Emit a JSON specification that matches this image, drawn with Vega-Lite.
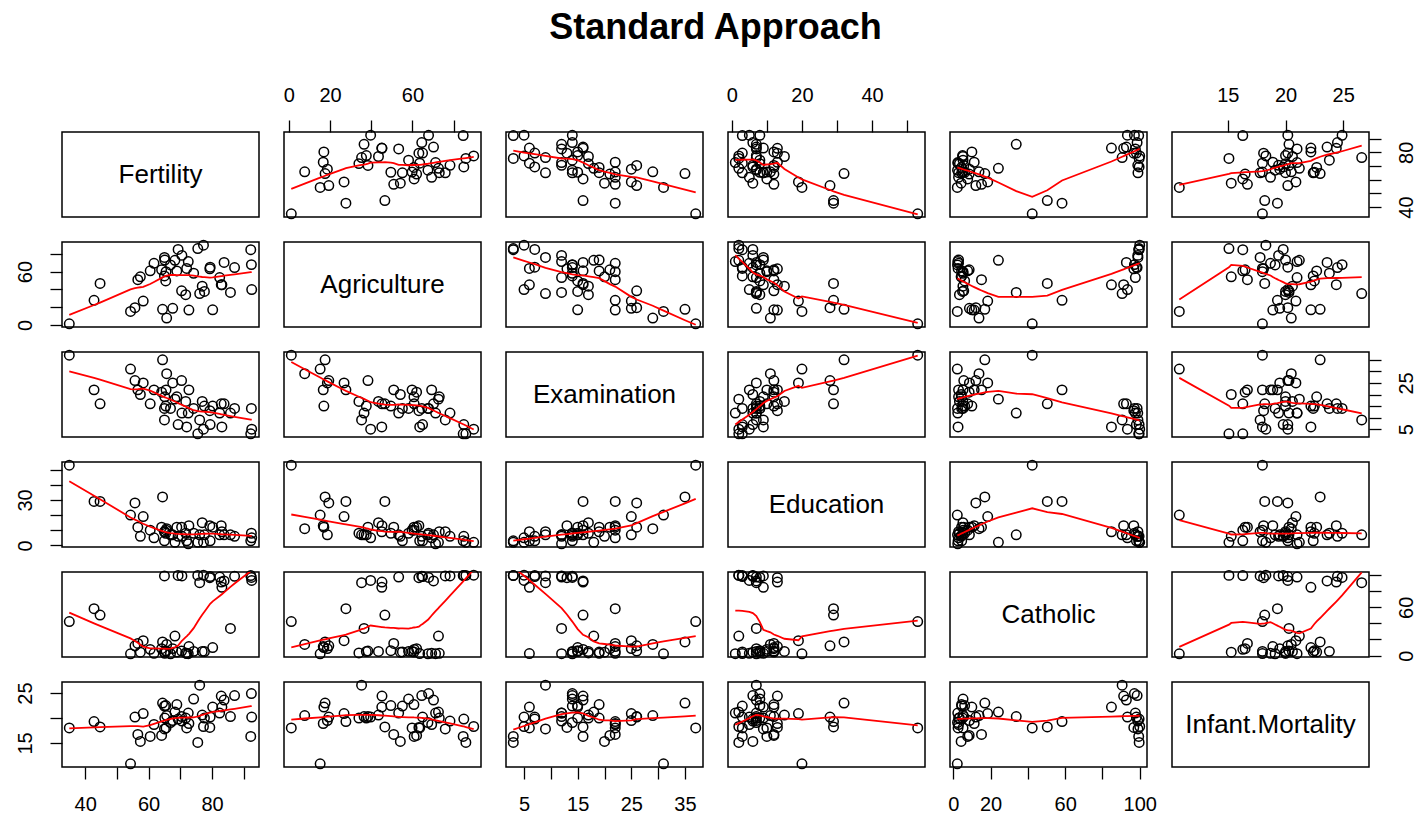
{
  "$schema": "https://vega.github.io/schema/vega-lite/v6.json",
  "background": "white",
  "padding": {"left": 14, "top": 10, "right": 5, "bottom": 5},
  "title": {"text": "Standard Approach", "fontSize": 36, "fontWeight": "bold", "font": "Liberation Sans", "color": "black", "anchor": "middle", "offset": 37},
  "data": {"values": [
    {"Fertility":80.2,"Agriculture":17.0,"Examination":15,"Education":12,"Catholic":9.96,"Infant_Mortality":22.2},
    {"Fertility":83.1,"Agriculture":45.1,"Examination":6,"Education":9,"Catholic":84.84,"Infant_Mortality":22.2},
    {"Fertility":92.5,"Agriculture":39.7,"Examination":5,"Education":5,"Catholic":93.40,"Infant_Mortality":20.2},
    {"Fertility":85.8,"Agriculture":36.5,"Examination":12,"Education":7,"Catholic":33.77,"Infant_Mortality":20.3},
    {"Fertility":76.9,"Agriculture":43.5,"Examination":17,"Education":15,"Catholic":5.16,"Infant_Mortality":20.6},
    {"Fertility":76.1,"Agriculture":35.3,"Examination":9,"Education":7,"Catholic":90.57,"Infant_Mortality":26.6},
    {"Fertility":83.8,"Agriculture":70.2,"Examination":16,"Education":7,"Catholic":92.85,"Infant_Mortality":23.6},
    {"Fertility":92.4,"Agriculture":67.8,"Examination":14,"Education":8,"Catholic":97.16,"Infant_Mortality":24.9},
    {"Fertility":82.4,"Agriculture":53.3,"Examination":12,"Education":7,"Catholic":97.67,"Infant_Mortality":21.0},
    {"Fertility":82.9,"Agriculture":45.2,"Examination":16,"Education":13,"Catholic":91.38,"Infant_Mortality":24.4},
    {"Fertility":87.1,"Agriculture":64.5,"Examination":14,"Education":6,"Catholic":98.61,"Infant_Mortality":24.5},
    {"Fertility":64.1,"Agriculture":62.0,"Examination":21,"Education":12,"Catholic":8.52,"Infant_Mortality":16.5},
    {"Fertility":66.9,"Agriculture":67.5,"Examination":14,"Education":7,"Catholic":2.27,"Infant_Mortality":19.1},
    {"Fertility":68.9,"Agriculture":60.7,"Examination":19,"Education":12,"Catholic":4.43,"Infant_Mortality":22.7},
    {"Fertility":61.7,"Agriculture":69.3,"Examination":22,"Education":5,"Catholic":2.82,"Infant_Mortality":18.7},
    {"Fertility":68.3,"Agriculture":72.6,"Examination":18,"Education":2,"Catholic":24.20,"Infant_Mortality":21.2},
    {"Fertility":71.7,"Agriculture":34.0,"Examination":17,"Education":8,"Catholic":3.30,"Infant_Mortality":20.0},
    {"Fertility":55.7,"Agriculture":19.4,"Examination":26,"Education":28,"Catholic":12.11,"Infant_Mortality":20.2},
    {"Fertility":54.3,"Agriculture":15.2,"Examination":31,"Education":20,"Catholic":2.15,"Infant_Mortality":10.8},
    {"Fertility":65.1,"Agriculture":73.0,"Examination":19,"Education":9,"Catholic":2.84,"Infant_Mortality":20.0},
    {"Fertility":65.5,"Agriculture":59.8,"Examination":22,"Education":10,"Catholic":5.23,"Infant_Mortality":18.0},
    {"Fertility":65.0,"Agriculture":55.1,"Examination":14,"Education":3,"Catholic":4.52,"Infant_Mortality":22.4},
    {"Fertility":56.6,"Agriculture":50.9,"Examination":22,"Education":12,"Catholic":15.14,"Infant_Mortality":16.7},
    {"Fertility":57.4,"Agriculture":54.1,"Examination":20,"Education":6,"Catholic":4.20,"Infant_Mortality":15.3},
    {"Fertility":72.5,"Agriculture":71.2,"Examination":12,"Education":1,"Catholic":2.40,"Infant_Mortality":21.0},
    {"Fertility":74.2,"Agriculture":58.1,"Examination":14,"Education":8,"Catholic":5.23,"Infant_Mortality":23.8},
    {"Fertility":72.0,"Agriculture":63.5,"Examination":6,"Education":3,"Catholic":2.56,"Infant_Mortality":18.0},
    {"Fertility":60.5,"Agriculture":60.8,"Examination":16,"Education":10,"Catholic":7.72,"Infant_Mortality":16.3},
    {"Fertility":58.3,"Agriculture":26.8,"Examination":25,"Education":19,"Catholic":18.46,"Infant_Mortality":20.9},
    {"Fertility":65.4,"Agriculture":49.5,"Examination":15,"Education":8,"Catholic":6.10,"Infant_Mortality":22.5},
    {"Fertility":75.5,"Agriculture":85.9,"Examination":3,"Education":2,"Catholic":99.71,"Infant_Mortality":15.1},
    {"Fertility":69.3,"Agriculture":84.9,"Examination":7,"Education":6,"Catholic":99.68,"Infant_Mortality":19.8},
    {"Fertility":77.3,"Agriculture":89.7,"Examination":5,"Education":2,"Catholic":100.00,"Infant_Mortality":18.3},
    {"Fertility":70.5,"Agriculture":78.2,"Examination":12,"Education":6,"Catholic":98.96,"Infant_Mortality":19.4},
    {"Fertility":79.4,"Agriculture":64.9,"Examination":7,"Education":3,"Catholic":98.22,"Infant_Mortality":20.2},
    {"Fertility":65.0,"Agriculture":75.9,"Examination":9,"Education":9,"Catholic":99.06,"Infant_Mortality":17.8},
    {"Fertility":92.2,"Agriculture":84.6,"Examination":3,"Education":3,"Catholic":99.46,"Infant_Mortality":16.3},
    {"Fertility":79.3,"Agriculture":63.1,"Examination":13,"Education":13,"Catholic":96.83,"Infant_Mortality":18.1},
    {"Fertility":70.4,"Agriculture":38.4,"Examination":26,"Education":12,"Catholic":5.62,"Infant_Mortality":20.3},
    {"Fertility":65.7,"Agriculture":7.7,"Examination":29,"Education":11,"Catholic":13.79,"Infant_Mortality":20.5},
    {"Fertility":72.7,"Agriculture":16.7,"Examination":22,"Education":13,"Catholic":11.22,"Infant_Mortality":18.9},
    {"Fertility":64.4,"Agriculture":17.6,"Examination":35,"Education":32,"Catholic":16.92,"Infant_Mortality":23.0},
    {"Fertility":77.6,"Agriculture":37.6,"Examination":15,"Education":7,"Catholic":4.97,"Infant_Mortality":20.0},
    {"Fertility":67.6,"Agriculture":18.7,"Examination":25,"Education":7,"Catholic":8.65,"Infant_Mortality":19.5},
    {"Fertility":35.0,"Agriculture":1.2,"Examination":37,"Education":53,"Catholic":42.34,"Infant_Mortality":18.0},
    {"Fertility":44.7,"Agriculture":46.6,"Examination":16,"Education":29,"Catholic":50.43,"Infant_Mortality":18.2},
    {"Fertility":42.8,"Agriculture":27.7,"Examination":22,"Education":29,"Catholic":58.33,"Infant_Mortality":19.3}
  ]},
  "columns": 6,
  "spacing": {"row": 25, "column": 25},
  "bounds": "flush",
  "concat": [
    {"width":197,"height":85,"data":{"values":[{"label":"Fertility","px":0.5,"py":0.5}]},"mark":{"type":"text","fontSize":26,"color":"black","font":"Liberation Sans"},"encoding":{"x":{"field":"px","type":"quantitative","scale":{"domain":[0,1]},"axis":null},"y":{"field":"py","type":"quantitative","scale":{"domain":[0,1]},"axis":null},"text":{"field":"label"}}},
    {"width":197,"height":85,"encoding":{"x":{"field":"Agriculture","type":"quantitative","scale":{"domain":[-2.34,93.24],"nice":false,"zero":false},"axis":{"orient":"top","title":null,"values":[0,20,40,60,80],"labelExpr":"indexof([0,20,60],datum.value)>=0?datum.label:''"}},"y":{"field":"Fertility","type":"quantitative","scale":{"domain":[32.7,94.8],"nice":false,"zero":false},"axis":null}},"layer":[{"mark":{"type":"point","shape":"circle","filled":false,"color":"black","size":90,"strokeWidth":1.5,"opacity":1}},{"transform":[{"loess":"Fertility","on":"Agriculture","bandwidth":0.667}],"mark":{"type":"line","color":"red","strokeWidth":1.8,"clip":true}}]},
    {"width":197,"height":85,"encoding":{"x":{"field":"Examination","type":"quantitative","scale":{"domain":[1.64,38.36],"nice":false,"zero":false},"axis":null},"y":{"field":"Fertility","type":"quantitative","scale":{"domain":[32.7,94.8],"nice":false,"zero":false},"axis":null}},"layer":[{"mark":{"type":"point","shape":"circle","filled":false,"color":"black","size":90,"strokeWidth":1.5,"opacity":1}},{"transform":[{"loess":"Fertility","on":"Examination","bandwidth":0.667}],"mark":{"type":"line","color":"red","strokeWidth":1.8,"clip":true}}]},
    {"width":197,"height":85,"encoding":{"x":{"field":"Education","type":"quantitative","scale":{"domain":[-1.08,55.08],"nice":false,"zero":false},"axis":{"orient":"top","title":null,"values":[0,10,20,30,40,50],"labelExpr":"indexof([0,20,40],datum.value)>=0?datum.label:''"}},"y":{"field":"Fertility","type":"quantitative","scale":{"domain":[32.7,94.8],"nice":false,"zero":false},"axis":null}},"layer":[{"mark":{"type":"point","shape":"circle","filled":false,"color":"black","size":90,"strokeWidth":1.5,"opacity":1}},{"transform":[{"loess":"Fertility","on":"Education","bandwidth":0.667}],"mark":{"type":"line","color":"red","strokeWidth":1.8,"clip":true}}]},
    {"width":197,"height":85,"encoding":{"x":{"field":"Catholic","type":"quantitative","scale":{"domain":[-1.764,103.914],"nice":false,"zero":false},"axis":null},"y":{"field":"Fertility","type":"quantitative","scale":{"domain":[32.7,94.8],"nice":false,"zero":false},"axis":null}},"layer":[{"mark":{"type":"point","shape":"circle","filled":false,"color":"black","size":90,"strokeWidth":1.5,"opacity":1}},{"transform":[{"loess":"Fertility","on":"Catholic","bandwidth":0.667}],"mark":{"type":"line","color":"red","strokeWidth":1.8,"clip":true}}]},
    {"width":197,"height":85,"encoding":{"x":{"field":"Infant_Mortality","type":"quantitative","scale":{"domain":[10.168,27.232],"nice":false,"zero":false},"axis":{"orient":"top","title":null,"values":[15,20,25]}},"y":{"field":"Fertility","type":"quantitative","scale":{"domain":[32.7,94.8],"nice":false,"zero":false},"axis":{"orient":"right","title":null,"values":[40,50,60,70,80,90],"labelExpr":"indexof([40,80],datum.value)>=0?datum.label:''","labelAngle":270,"labelAlign":"center","labelBaseline":"top"}}},"layer":[{"mark":{"type":"point","shape":"circle","filled":false,"color":"black","size":90,"strokeWidth":1.5,"opacity":1}},{"transform":[{"loess":"Fertility","on":"Infant_Mortality","bandwidth":0.667}],"mark":{"type":"line","color":"red","strokeWidth":1.8,"clip":true}}]},

    {"width":197,"height":85,"encoding":{"x":{"field":"Fertility","type":"quantitative","scale":{"domain":[32.7,94.8],"nice":false,"zero":false},"axis":null},"y":{"field":"Agriculture","type":"quantitative","scale":{"domain":[-2.34,93.24],"nice":false,"zero":false},"axis":{"orient":"left","title":null,"values":[0,20,40,60,80],"labelExpr":"indexof([0,60],datum.value)>=0?datum.label:''","labelAngle":270,"labelAlign":"center","labelBaseline":"bottom"}}},"layer":[{"mark":{"type":"point","shape":"circle","filled":false,"color":"black","size":90,"strokeWidth":1.5,"opacity":1}},{"transform":[{"loess":"Agriculture","on":"Fertility","bandwidth":0.667}],"mark":{"type":"line","color":"red","strokeWidth":1.8,"clip":true}}]},
    {"width":197,"height":85,"data":{"values":[{"label":"Agriculture","px":0.5,"py":0.5}]},"mark":{"type":"text","fontSize":26,"color":"black","font":"Liberation Sans"},"encoding":{"x":{"field":"px","type":"quantitative","scale":{"domain":[0,1]},"axis":null},"y":{"field":"py","type":"quantitative","scale":{"domain":[0,1]},"axis":null},"text":{"field":"label"}}},
    {"width":197,"height":85,"encoding":{"x":{"field":"Examination","type":"quantitative","scale":{"domain":[1.64,38.36],"nice":false,"zero":false},"axis":null},"y":{"field":"Agriculture","type":"quantitative","scale":{"domain":[-2.34,93.24],"nice":false,"zero":false},"axis":null}},"layer":[{"mark":{"type":"point","shape":"circle","filled":false,"color":"black","size":90,"strokeWidth":1.5,"opacity":1}},{"transform":[{"loess":"Agriculture","on":"Examination","bandwidth":0.667}],"mark":{"type":"line","color":"red","strokeWidth":1.8,"clip":true}}]},
    {"width":197,"height":85,"encoding":{"x":{"field":"Education","type":"quantitative","scale":{"domain":[-1.08,55.08],"nice":false,"zero":false},"axis":null},"y":{"field":"Agriculture","type":"quantitative","scale":{"domain":[-2.34,93.24],"nice":false,"zero":false},"axis":null}},"layer":[{"mark":{"type":"point","shape":"circle","filled":false,"color":"black","size":90,"strokeWidth":1.5,"opacity":1}},{"transform":[{"loess":"Agriculture","on":"Education","bandwidth":0.667}],"mark":{"type":"line","color":"red","strokeWidth":1.8,"clip":true}}]},
    {"width":197,"height":85,"encoding":{"x":{"field":"Catholic","type":"quantitative","scale":{"domain":[-1.764,103.914],"nice":false,"zero":false},"axis":null},"y":{"field":"Agriculture","type":"quantitative","scale":{"domain":[-2.34,93.24],"nice":false,"zero":false},"axis":null}},"layer":[{"mark":{"type":"point","shape":"circle","filled":false,"color":"black","size":90,"strokeWidth":1.5,"opacity":1}},{"transform":[{"loess":"Agriculture","on":"Catholic","bandwidth":0.667}],"mark":{"type":"line","color":"red","strokeWidth":1.8,"clip":true}}]},
    {"width":197,"height":85,"encoding":{"x":{"field":"Infant_Mortality","type":"quantitative","scale":{"domain":[10.168,27.232],"nice":false,"zero":false},"axis":null},"y":{"field":"Agriculture","type":"quantitative","scale":{"domain":[-2.34,93.24],"nice":false,"zero":false},"axis":null}},"layer":[{"mark":{"type":"point","shape":"circle","filled":false,"color":"black","size":90,"strokeWidth":1.5,"opacity":1}},{"transform":[{"loess":"Agriculture","on":"Infant_Mortality","bandwidth":0.667}],"mark":{"type":"line","color":"red","strokeWidth":1.8,"clip":true}}]},

    {"width":197,"height":85,"encoding":{"x":{"field":"Fertility","type":"quantitative","scale":{"domain":[32.7,94.8],"nice":false,"zero":false},"axis":null},"y":{"field":"Examination","type":"quantitative","scale":{"domain":[1.64,38.36],"nice":false,"zero":false},"axis":null}},"layer":[{"mark":{"type":"point","shape":"circle","filled":false,"color":"black","size":90,"strokeWidth":1.5,"opacity":1}},{"transform":[{"loess":"Examination","on":"Fertility","bandwidth":0.667}],"mark":{"type":"line","color":"red","strokeWidth":1.8,"clip":true}}]},
    {"width":197,"height":85,"encoding":{"x":{"field":"Agriculture","type":"quantitative","scale":{"domain":[-2.34,93.24],"nice":false,"zero":false},"axis":null},"y":{"field":"Examination","type":"quantitative","scale":{"domain":[1.64,38.36],"nice":false,"zero":false},"axis":null}},"layer":[{"mark":{"type":"point","shape":"circle","filled":false,"color":"black","size":90,"strokeWidth":1.5,"opacity":1}},{"transform":[{"loess":"Examination","on":"Agriculture","bandwidth":0.667}],"mark":{"type":"line","color":"red","strokeWidth":1.8,"clip":true}}]},
    {"width":197,"height":85,"data":{"values":[{"label":"Examination","px":0.5,"py":0.5}]},"mark":{"type":"text","fontSize":26,"color":"black","font":"Liberation Sans"},"encoding":{"x":{"field":"px","type":"quantitative","scale":{"domain":[0,1]},"axis":null},"y":{"field":"py","type":"quantitative","scale":{"domain":[0,1]},"axis":null},"text":{"field":"label"}}},
    {"width":197,"height":85,"encoding":{"x":{"field":"Education","type":"quantitative","scale":{"domain":[-1.08,55.08],"nice":false,"zero":false},"axis":null},"y":{"field":"Examination","type":"quantitative","scale":{"domain":[1.64,38.36],"nice":false,"zero":false},"axis":null}},"layer":[{"mark":{"type":"point","shape":"circle","filled":false,"color":"black","size":90,"strokeWidth":1.5,"opacity":1}},{"transform":[{"loess":"Examination","on":"Education","bandwidth":0.667}],"mark":{"type":"line","color":"red","strokeWidth":1.8,"clip":true}}]},
    {"width":197,"height":85,"encoding":{"x":{"field":"Catholic","type":"quantitative","scale":{"domain":[-1.764,103.914],"nice":false,"zero":false},"axis":null},"y":{"field":"Examination","type":"quantitative","scale":{"domain":[1.64,38.36],"nice":false,"zero":false},"axis":null}},"layer":[{"mark":{"type":"point","shape":"circle","filled":false,"color":"black","size":90,"strokeWidth":1.5,"opacity":1}},{"transform":[{"loess":"Examination","on":"Catholic","bandwidth":0.667}],"mark":{"type":"line","color":"red","strokeWidth":1.8,"clip":true}}]},
    {"width":197,"height":85,"encoding":{"x":{"field":"Infant_Mortality","type":"quantitative","scale":{"domain":[10.168,27.232],"nice":false,"zero":false},"axis":null},"y":{"field":"Examination","type":"quantitative","scale":{"domain":[1.64,38.36],"nice":false,"zero":false},"axis":{"orient":"right","title":null,"values":[5,10,15,20,25,30,35],"labelExpr":"indexof([5,25],datum.value)>=0?datum.label:''","labelAngle":270,"labelAlign":"center","labelBaseline":"top"}}},"layer":[{"mark":{"type":"point","shape":"circle","filled":false,"color":"black","size":90,"strokeWidth":1.5,"opacity":1}},{"transform":[{"loess":"Examination","on":"Infant_Mortality","bandwidth":0.667}],"mark":{"type":"line","color":"red","strokeWidth":1.8,"clip":true}}]},

    {"width":197,"height":85,"encoding":{"x":{"field":"Fertility","type":"quantitative","scale":{"domain":[32.7,94.8],"nice":false,"zero":false},"axis":null},"y":{"field":"Education","type":"quantitative","scale":{"domain":[-1.08,55.08],"nice":false,"zero":false},"axis":{"orient":"left","title":null,"values":[0,10,20,30,40,50],"labelExpr":"indexof([0,30],datum.value)>=0?datum.label:''","labelAngle":270,"labelAlign":"center","labelBaseline":"bottom"}}},"layer":[{"mark":{"type":"point","shape":"circle","filled":false,"color":"black","size":90,"strokeWidth":1.5,"opacity":1}},{"transform":[{"loess":"Education","on":"Fertility","bandwidth":0.667}],"mark":{"type":"line","color":"red","strokeWidth":1.8,"clip":true}}]},
    {"width":197,"height":85,"encoding":{"x":{"field":"Agriculture","type":"quantitative","scale":{"domain":[-2.34,93.24],"nice":false,"zero":false},"axis":null},"y":{"field":"Education","type":"quantitative","scale":{"domain":[-1.08,55.08],"nice":false,"zero":false},"axis":null}},"layer":[{"mark":{"type":"point","shape":"circle","filled":false,"color":"black","size":90,"strokeWidth":1.5,"opacity":1}},{"transform":[{"loess":"Education","on":"Agriculture","bandwidth":0.667}],"mark":{"type":"line","color":"red","strokeWidth":1.8,"clip":true}}]},
    {"width":197,"height":85,"encoding":{"x":{"field":"Examination","type":"quantitative","scale":{"domain":[1.64,38.36],"nice":false,"zero":false},"axis":null},"y":{"field":"Education","type":"quantitative","scale":{"domain":[-1.08,55.08],"nice":false,"zero":false},"axis":null}},"layer":[{"mark":{"type":"point","shape":"circle","filled":false,"color":"black","size":90,"strokeWidth":1.5,"opacity":1}},{"transform":[{"loess":"Education","on":"Examination","bandwidth":0.667}],"mark":{"type":"line","color":"red","strokeWidth":1.8,"clip":true}}]},
    {"width":197,"height":85,"data":{"values":[{"label":"Education","px":0.5,"py":0.5}]},"mark":{"type":"text","fontSize":26,"color":"black","font":"Liberation Sans"},"encoding":{"x":{"field":"px","type":"quantitative","scale":{"domain":[0,1]},"axis":null},"y":{"field":"py","type":"quantitative","scale":{"domain":[0,1]},"axis":null},"text":{"field":"label"}}},
    {"width":197,"height":85,"encoding":{"x":{"field":"Catholic","type":"quantitative","scale":{"domain":[-1.764,103.914],"nice":false,"zero":false},"axis":null},"y":{"field":"Education","type":"quantitative","scale":{"domain":[-1.08,55.08],"nice":false,"zero":false},"axis":null}},"layer":[{"mark":{"type":"point","shape":"circle","filled":false,"color":"black","size":90,"strokeWidth":1.5,"opacity":1}},{"transform":[{"loess":"Education","on":"Catholic","bandwidth":0.667}],"mark":{"type":"line","color":"red","strokeWidth":1.8,"clip":true}}]},
    {"width":197,"height":85,"encoding":{"x":{"field":"Infant_Mortality","type":"quantitative","scale":{"domain":[10.168,27.232],"nice":false,"zero":false},"axis":null},"y":{"field":"Education","type":"quantitative","scale":{"domain":[-1.08,55.08],"nice":false,"zero":false},"axis":null}},"layer":[{"mark":{"type":"point","shape":"circle","filled":false,"color":"black","size":90,"strokeWidth":1.5,"opacity":1}},{"transform":[{"loess":"Education","on":"Infant_Mortality","bandwidth":0.667}],"mark":{"type":"line","color":"red","strokeWidth":1.8,"clip":true}}]},

    {"width":197,"height":85,"encoding":{"x":{"field":"Fertility","type":"quantitative","scale":{"domain":[32.7,94.8],"nice":false,"zero":false},"axis":null},"y":{"field":"Catholic","type":"quantitative","scale":{"domain":[-1.764,103.914],"nice":false,"zero":false},"axis":null}},"layer":[{"mark":{"type":"point","shape":"circle","filled":false,"color":"black","size":90,"strokeWidth":1.5,"opacity":1}},{"transform":[{"loess":"Catholic","on":"Fertility","bandwidth":0.667}],"mark":{"type":"line","color":"red","strokeWidth":1.8,"clip":true}}]},
    {"width":197,"height":85,"encoding":{"x":{"field":"Agriculture","type":"quantitative","scale":{"domain":[-2.34,93.24],"nice":false,"zero":false},"axis":null},"y":{"field":"Catholic","type":"quantitative","scale":{"domain":[-1.764,103.914],"nice":false,"zero":false},"axis":null}},"layer":[{"mark":{"type":"point","shape":"circle","filled":false,"color":"black","size":90,"strokeWidth":1.5,"opacity":1}},{"transform":[{"loess":"Catholic","on":"Agriculture","bandwidth":0.667}],"mark":{"type":"line","color":"red","strokeWidth":1.8,"clip":true}}]},
    {"width":197,"height":85,"encoding":{"x":{"field":"Examination","type":"quantitative","scale":{"domain":[1.64,38.36],"nice":false,"zero":false},"axis":null},"y":{"field":"Catholic","type":"quantitative","scale":{"domain":[-1.764,103.914],"nice":false,"zero":false},"axis":null}},"layer":[{"mark":{"type":"point","shape":"circle","filled":false,"color":"black","size":90,"strokeWidth":1.5,"opacity":1}},{"transform":[{"loess":"Catholic","on":"Examination","bandwidth":0.667}],"mark":{"type":"line","color":"red","strokeWidth":1.8,"clip":true}}]},
    {"width":197,"height":85,"encoding":{"x":{"field":"Education","type":"quantitative","scale":{"domain":[-1.08,55.08],"nice":false,"zero":false},"axis":null},"y":{"field":"Catholic","type":"quantitative","scale":{"domain":[-1.764,103.914],"nice":false,"zero":false},"axis":null}},"layer":[{"mark":{"type":"point","shape":"circle","filled":false,"color":"black","size":90,"strokeWidth":1.5,"opacity":1}},{"transform":[{"loess":"Catholic","on":"Education","bandwidth":0.667}],"mark":{"type":"line","color":"red","strokeWidth":1.8,"clip":true}}]},
    {"width":197,"height":85,"data":{"values":[{"label":"Catholic","px":0.5,"py":0.5}]},"mark":{"type":"text","fontSize":26,"color":"black","font":"Liberation Sans"},"encoding":{"x":{"field":"px","type":"quantitative","scale":{"domain":[0,1]},"axis":null},"y":{"field":"py","type":"quantitative","scale":{"domain":[0,1]},"axis":null},"text":{"field":"label"}}},
    {"width":197,"height":85,"encoding":{"x":{"field":"Infant_Mortality","type":"quantitative","scale":{"domain":[10.168,27.232],"nice":false,"zero":false},"axis":null},"y":{"field":"Catholic","type":"quantitative","scale":{"domain":[-1.764,103.914],"nice":false,"zero":false},"axis":{"orient":"right","title":null,"values":[0,20,40,60,80,100],"labelExpr":"indexof([0,60],datum.value)>=0?datum.label:''","labelAngle":270,"labelAlign":"center","labelBaseline":"top"}}},"layer":[{"mark":{"type":"point","shape":"circle","filled":false,"color":"black","size":90,"strokeWidth":1.5,"opacity":1}},{"transform":[{"loess":"Catholic","on":"Infant_Mortality","bandwidth":0.667}],"mark":{"type":"line","color":"red","strokeWidth":1.8,"clip":true}}]},

    {"width":197,"height":85,"encoding":{"x":{"field":"Fertility","type":"quantitative","scale":{"domain":[32.7,94.8],"nice":false,"zero":false},"axis":{"orient":"bottom","title":null,"values":[40,50,60,70,80,90],"labelExpr":"indexof([40,60,80],datum.value)>=0?datum.label:''"}},"y":{"field":"Infant_Mortality","type":"quantitative","scale":{"domain":[10.168,27.232],"nice":false,"zero":false},"axis":{"orient":"left","title":null,"values":[15,20,25],"labelExpr":"indexof([15,25],datum.value)>=0?datum.label:''","labelAngle":270,"labelAlign":"center","labelBaseline":"bottom"}}},"layer":[{"mark":{"type":"point","shape":"circle","filled":false,"color":"black","size":90,"strokeWidth":1.5,"opacity":1}},{"transform":[{"loess":"Infant_Mortality","on":"Fertility","bandwidth":0.667}],"mark":{"type":"line","color":"red","strokeWidth":1.8,"clip":true}}]},
    {"width":197,"height":85,"encoding":{"x":{"field":"Agriculture","type":"quantitative","scale":{"domain":[-2.34,93.24],"nice":false,"zero":false},"axis":null},"y":{"field":"Infant_Mortality","type":"quantitative","scale":{"domain":[10.168,27.232],"nice":false,"zero":false},"axis":null}},"layer":[{"mark":{"type":"point","shape":"circle","filled":false,"color":"black","size":90,"strokeWidth":1.5,"opacity":1}},{"transform":[{"loess":"Infant_Mortality","on":"Agriculture","bandwidth":0.667}],"mark":{"type":"line","color":"red","strokeWidth":1.8,"clip":true}}]},
    {"width":197,"height":85,"encoding":{"x":{"field":"Examination","type":"quantitative","scale":{"domain":[1.64,38.36],"nice":false,"zero":false},"axis":{"orient":"bottom","title":null,"values":[5,10,15,20,25,30,35],"labelExpr":"indexof([5,15,25,35],datum.value)>=0?datum.label:''"}},"y":{"field":"Infant_Mortality","type":"quantitative","scale":{"domain":[10.168,27.232],"nice":false,"zero":false},"axis":null}},"layer":[{"mark":{"type":"point","shape":"circle","filled":false,"color":"black","size":90,"strokeWidth":1.5,"opacity":1}},{"transform":[{"loess":"Infant_Mortality","on":"Examination","bandwidth":0.667}],"mark":{"type":"line","color":"red","strokeWidth":1.8,"clip":true}}]},
    {"width":197,"height":85,"encoding":{"x":{"field":"Education","type":"quantitative","scale":{"domain":[-1.08,55.08],"nice":false,"zero":false},"axis":null},"y":{"field":"Infant_Mortality","type":"quantitative","scale":{"domain":[10.168,27.232],"nice":false,"zero":false},"axis":null}},"layer":[{"mark":{"type":"point","shape":"circle","filled":false,"color":"black","size":90,"strokeWidth":1.5,"opacity":1}},{"transform":[{"loess":"Infant_Mortality","on":"Education","bandwidth":0.667}],"mark":{"type":"line","color":"red","strokeWidth":1.8,"clip":true}}]},
    {"width":197,"height":85,"encoding":{"x":{"field":"Catholic","type":"quantitative","scale":{"domain":[-1.764,103.914],"nice":false,"zero":false},"axis":{"orient":"bottom","title":null,"values":[0,20,40,60,80,100],"labelExpr":"indexof([0,20,60,100],datum.value)>=0?datum.label:''"}},"y":{"field":"Infant_Mortality","type":"quantitative","scale":{"domain":[10.168,27.232],"nice":false,"zero":false},"axis":null}},"layer":[{"mark":{"type":"point","shape":"circle","filled":false,"color":"black","size":90,"strokeWidth":1.5,"opacity":1}},{"transform":[{"loess":"Infant_Mortality","on":"Catholic","bandwidth":0.667}],"mark":{"type":"line","color":"red","strokeWidth":1.8,"clip":true}}]},
    {"width":197,"height":85,"data":{"values":[{"label":"Infant.Mortality","px":0.5,"py":0.5}]},"mark":{"type":"text","fontSize":26,"color":"black","font":"Liberation Sans"},"encoding":{"x":{"field":"px","type":"quantitative","scale":{"domain":[0,1]},"axis":null},"y":{"field":"py","type":"quantitative","scale":{"domain":[0,1]},"axis":null},"text":{"field":"label"}}}
  ],
  "config": {
    "font": "Liberation Sans",
    "view": {"stroke": "black", "strokeWidth": 1.5},
    "axis": {"grid": false, "domain": false, "ticks": true, "tickColor": "black", "tickSize": 12, "tickWidth": 1.3, "labelFont": "Liberation Sans", "labelFontSize": 20, "labelColor": "black", "labelPadding": 15, "labelOverlap": false, "labelFlush": false, "labelBound": false}
  }
}
